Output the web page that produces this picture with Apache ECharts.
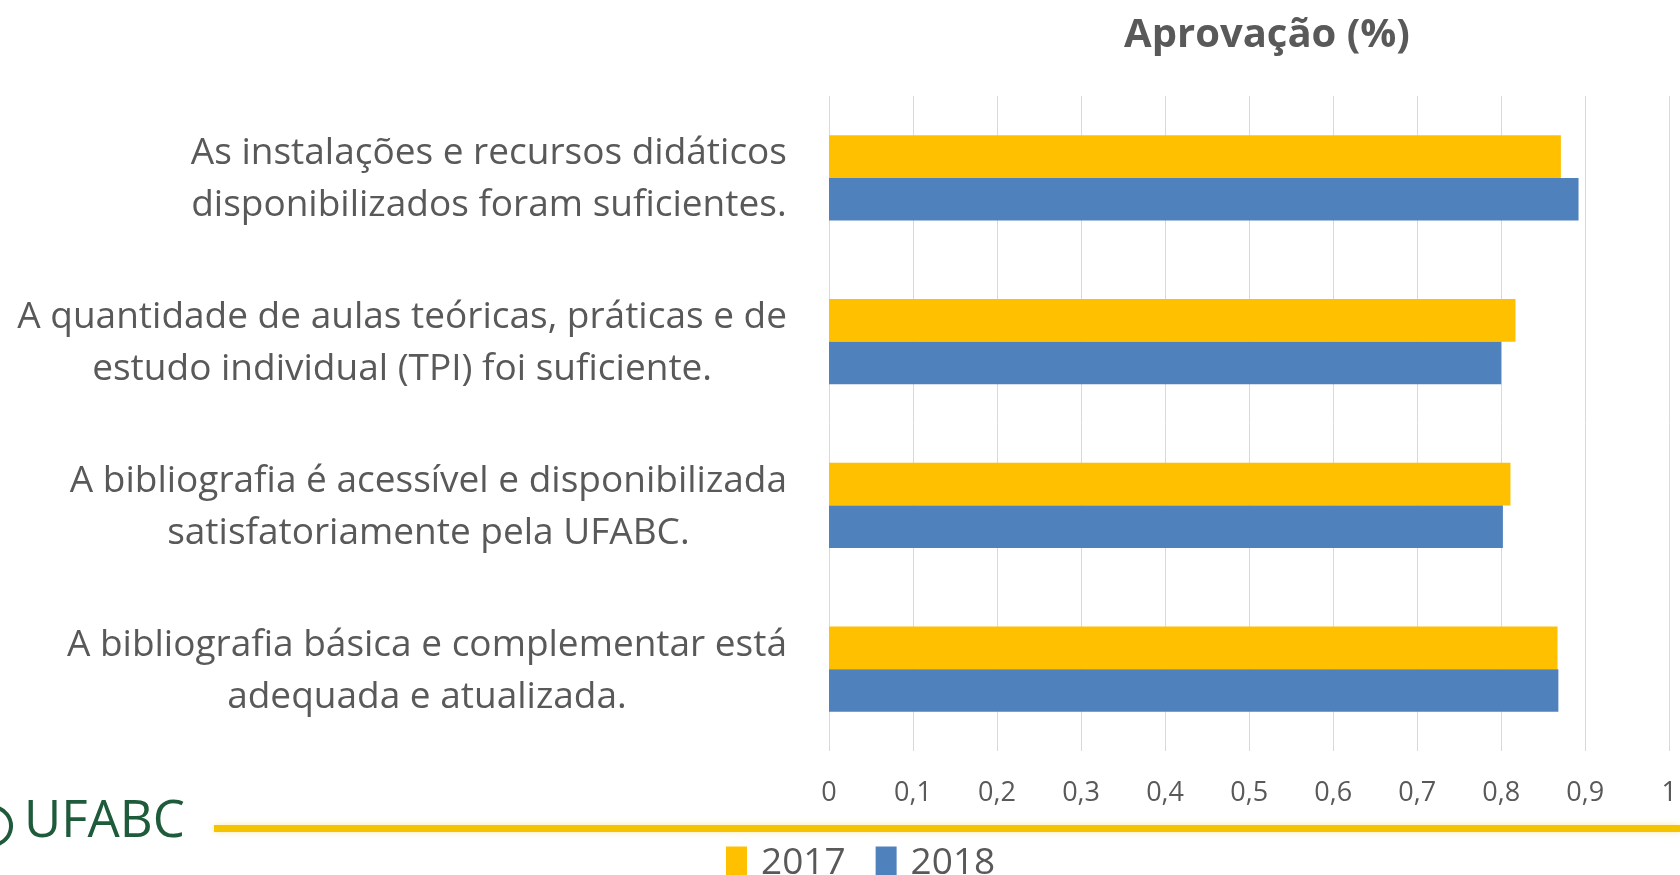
<!DOCTYPE html>
<html>
<head>
<meta charset="utf-8">
<title>Aprovação (%)</title>
<script src="https://cdn.jsdelivr.net/npm/echarts@6/dist/echarts.min.js"></script>
<style>
  html, body { margin: 0; padding: 0; background: #fff; }
  #main { width: 1680px; height: 875px; }
</style>
</head>
<body>
<div id="main"></div>
<script>
// perguntas, de cima para baixo
const categorias = [
  'As instalações e recursos didáticos\ndisponibilizados foram suficientes.',
  'A quantidade de aulas teóricas, práticas e de\nestudo individual (TPI) foi suficiente.',
  'A bibliografia é acessível e disponibilizada\nsatisfatoriamente pela UFABC.',
  'A bibliografia básica e complementar está\nadequada e atualizada.'
]
const anos = ['2017', '2018']
const aprov2017 = [0.871, 0.817, 0.811, 0.867]
const aprov2018 = [0.892, 0.800, 0.802, 0.868]

const cinza = '#595959'
const fonte = '"Open Sans", "Noto Sans", sans-serif'

const chart = echarts.init(document.getElementById('main'))

const option = {
  backgroundColor: '#fff',
  animation: false,
  title: {
    text: 'Aprovação (%)',
    left: 1262,
    top: 11,
    textAlign: 'center',
    textStyle: {
      color: cinza,
      fontSize: 40,
      fontWeight: 'bold',
      fontFamily: fonte
    }
  },
  legend: {
    data: anos,
    left: 721,
    top: 840,
    itemWidth: 21,
    itemHeight: 34,
    itemGap: 30,
    icon: 'rect',
    textStyle: {
      color: cinza,
      fontSize: 37,
      fontFamily: fonte,
      padding: [0, 0, 0, 9]
    }
  },
  grid: {
    left: 829,
    right: 5,
    top: 96,
    bottom: 124
  },
  xAxis: {
    type: 'value',
    min: 0,
    max: 1,
    interval: 0.1,
    axisLine: { show: false },
    axisTick: { show: false },
    splitLine: { show: true, lineStyle: { color: '#d9d9d9', width: 1 } },
    axisLabel: {
      color: cinza,
      fontSize: 27,
      fontFamily: fonte,
      margin: 29,
      formatter: v => String(Math.round(v * 10) / 10).replace('.', ',')
    }
  },
  yAxis: {
    type: 'category',
    inverse: true,
    data: categorias,
    axisLine: { show: false },
    axisTick: { show: false },
    splitLine: { show: false },
    axisLabel: {
      align: 'right',
      margin: 42,
      padding: [4, 0, 0, 0],
      formatter: v => v.split('\n').map(l => '{c|' + l + '}').join('\n'),
      rich: {
        c: {
          align: 'center',
          color: cinza,
          fontSize: 37,
          lineHeight: 52,
          fontFamily: fonte
        }
      }
    }
  },
  series: [
    {
      name: anos[0],
      type: 'bar',
      data: aprov2017,
      barGap: '0%',
      barCategoryGap: '48%',
      itemStyle: { color: '#FFC000' }
    },
    {
      name: anos[1],
      type: 'bar',
      data: aprov2018,
      barGap: '0%',
      barCategoryGap: '48%',
      itemStyle: { color: '#4F81BD' }
    }
  ],
  // rodapé: logo UFABC e faixa amarela
  graphic: [
    {
      type: 'rect',
      z: -1,
      shape: { x: 214, y: 825, width: 1466, height: 7 },
      style: { fill: '#F5C400', shadowBlur: 6, shadowColor: 'rgba(245,196,0,0.35)' }
    },
    {
      type: 'arc',
      shape: { cx: -8, cy: 826, r: 19, startAngle: -Math.PI / 2.2, endAngle: Math.PI / 2.2 },
      style: { stroke: '#1E5B3B', lineWidth: 4, fill: null }
    },
    {
      type: 'text',
      left: 24,
      top: 797,
      style: {
        text: 'UFABC',
        fill: '#1E5B3B',
        font: '51px ' + fonte
      }
    }
  ]
}

chart.setOption(option)
</script>
</body>
</html>
